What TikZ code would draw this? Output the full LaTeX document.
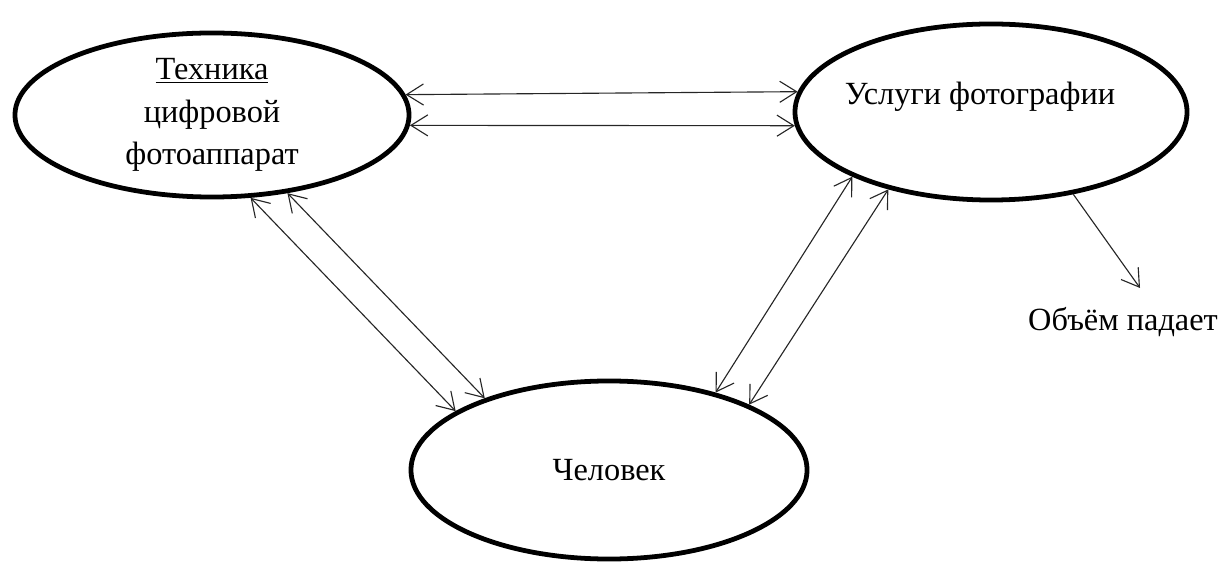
\documentclass[tikz,border=0pt]{standalone}
\usepackage{fontspec}
\setmainfont{Liberation Serif}
\usetikzlibrary{shapes.geometric,arrows.meta}

\begin{document}
\begin{tikzpicture}[
    x=0.025cm, y=-0.025cm,
    >={Straight Barb[length=12pt,width=15pt]},
    oval/.style={
        draw,
        ellipse,
        line width=3.4pt,
        inner sep=0pt,
        align=center,
        font=\rmfamily\fontsize{23pt}{30pt}\selectfont
    },
    caption/.style={
        inner sep=0pt,
        align=center,
        font=\rmfamily\fontsize{23pt}{30pt}\selectfont
    },
    link/.style={draw, line width=0.8pt, black!85, <->},
    drop/.style={draw, line width=0.8pt, black!85, ->}
]
    \useasboundingbox (0,0) rectangle (1228,563);

    \node[oval, minimum width=9.85cm, minimum height=4.1cm] (tech) at (212,115)
        {\underline{Техника}\\цифровой\\фотоаппарат};
    \node[oval, minimum width=9.8cm, minimum height=4.4cm] (uslugi) at (991,112) {};
    \node[caption] (uslugitext) at (980,97) {Услуги фотографии};
    \node[oval, minimum width=9.9cm, minimum height=4.45cm] (chelovek) at (609,470)
        {Человек};

    \coordinate (padenie) at (1140,288);
    \node[caption] (obem) at (1123,322) {Объём падает};

    \draw[link] (tech.6.2) -- (uslugi.174.7);
    \draw[link] (tech.-3.5) -- (uslugi.184.4);
    \draw[link] (tech.-65.6) -- (chelovek.159.7);
    \draw[link] (tech.-46.8) -- (chelovek.150.5);
    \draw[link] (uslugi.205.8) -- (chelovek.36.0);
    \draw[link] (uslugi.217.5) -- (chelovek.25.3);
    \draw[drop] (uslugi.-45.3) -- (padenie);
\end{tikzpicture}
\end{document}
